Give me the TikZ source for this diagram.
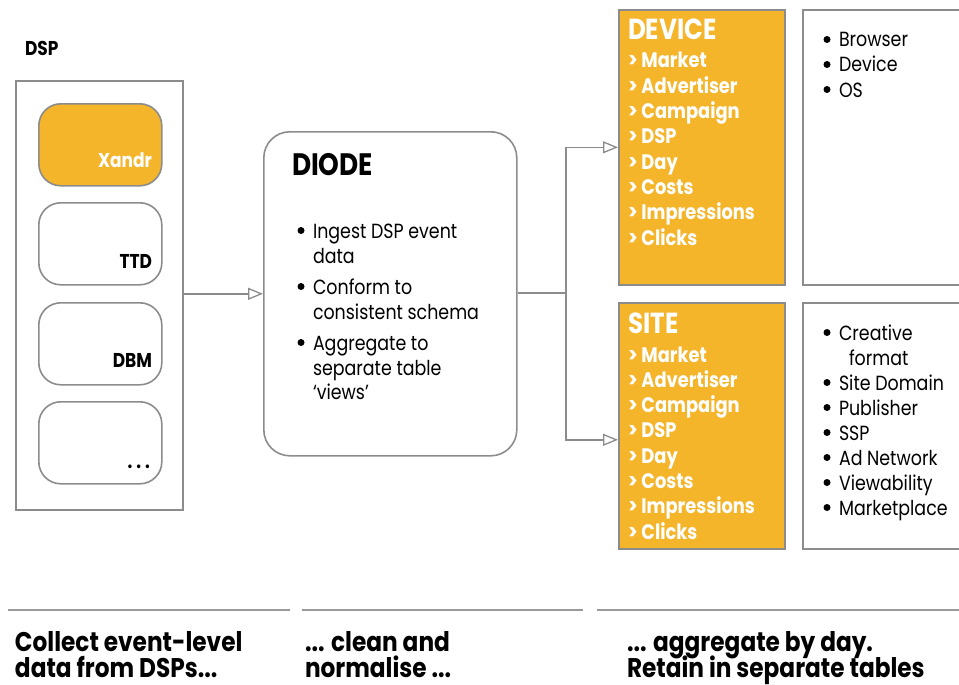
\documentclass[tikz,border=0pt]{standalone}
\usepackage{fontspec}
\setmainfont{Poppins}[FakeStretch=0.85]
\newfontfamily\botfont{Poppins}[FakeStretch=0.86]
\usetikzlibrary{arrows.meta}
\definecolor{orng}{HTML}{F5B52B}
\definecolor{edgegray}{HTML}{8C8C8C}
\definecolor{sepgray}{HTML}{9A9A9A}
\tikzset{
  frame/.style={draw=edgegray, line width=1.6pt, inner sep=0pt, anchor=north west},
  dspitem/.style={frame, rounded corners=22pt, minimum width=123pt, minimum height=82pt},
  conn/.style={draw=edgegray, line width=1.5pt, -{Triangle[length=15pt,width=12pt,fill=white,line width=1.3pt]}},
  txt/.style={anchor=base west, inner sep=0pt, outer sep=0pt},
  rtxt/.style={anchor=base east, inner sep=0pt, outer sep=0pt},
  dot/.style={circle, fill=black, inner sep=0pt, minimum size=7pt},
  labfont/.style={font=\bfseries\fontsize{20}{24}\selectfont},
  listfont/.style={font=\fontsize{20.5}{25}\selectfont},
  itemfont/.style={font=\bfseries\fontsize{21}{25}\selectfont, text=white},
  headfont/.style={font=\bfseries\fontsize{29}{34}\selectfont, text=white},
  captxt/.style={txt, text height=18pt, text depth=6pt, font=\botfont\bfseries\fontsize{27}{30}\selectfont},
  sepline/.style={draw=sepgray, line width=2pt}
}
\begin{document}
\begin{tikzpicture}[x=1pt,y=-1pt]
\useasboundingbox (0,0) rectangle (959,685);

% ---------- DSP column ----------
\node[txt, labfont] (dsplabel) at (25,56) {DSP};
\node[frame, minimum width=167pt, minimum height=429pt] (dsp) at (15,80) {};
\node[dspitem, fill=orng] (xandr) at (38,103) {};
\node[dspitem] (ttd) at (38,202) {};
\node[dspitem] (dbm) at (38,302) {};
\node[dspitem] (more) at (38,401) {};
\node[rtxt, labfont, text=white] (xandrlab) at (152,167) {Xandr};
\node[rtxt, labfont] (ttdlab) at (152,268) {TTD};
\node[rtxt, labfont] (dbmlab) at (152,367) {DBM};
\node[rtxt, labfont] (morelab) at (150,468) {.\hspace{4pt}.\hspace{4pt}.};

% ---------- DIODE ----------
\node[frame, rounded corners=26pt, minimum width=253pt, minimum height=324pt] (diode) at (263,131) {};
\node[txt, font=\bfseries\fontsize{31}{36}\selectfont] (diodelab) at (292,175) {DIODE};
\node[dot] (db1) at (301,230.5) {};
\node[txt, listfont] (dl1) at (313,238) {Ingest DSP event};
\node[txt, listfont] (dl2) at (313,263) {data};
\node[dot] (db2) at (301,286.5) {};
\node[txt, listfont] (dl3) at (313,294) {Conform to};
\node[txt, listfont] (dl4) at (313,319) {consistent schema};
\node[dot] (db3) at (301,342.5) {};
\node[txt, listfont] (dl5) at (313,350) {Aggregate to};
\node[txt, listfont] (dl6) at (313,375) {separate table};
\node[txt, listfont] (dl7) at (313,399) {‘views’};

% ---------- DEVICE ----------
\node[frame, fill=orng, minimum width=166pt, minimum height=275pt] (device) at (618,9) {};
\node[frame, minimum width=160pt, minimum height=275pt] (devattr) at (802,9) {};
\node[txt, headfont] (devhead) at (628,40) {DEVICE};
\foreach \t [count=\i from 0] in {Market,Advertiser,Campaign,DSP,Day,Costs,Impressions,Clicks}
  \node[txt, itemfont] (dev\i) at (628,{68+25.3*\i}) {> \t};
\foreach \t [count=\i from 0] in {Browser,Device,OS}{
  \node[dot] (devb\i) at (827,{39.5+25*\i}) {};
  \node[txt, listfont] (devt\i) at (839,{47+25*\i}) {\t};
}

% ---------- SITE ----------
\node[frame, fill=orng, minimum width=166pt, minimum height=246pt] (site) at (618,302) {};
\node[frame, minimum width=160pt, minimum height=246pt] (siteattr) at (802,302) {};
\node[txt, headfont] (sitehead) at (628,333) {SITE};
\foreach \t [count=\i from 0] in {Market,Advertiser,Campaign,DSP,Day,Costs,Impressions,Clicks}
  \node[txt, itemfont] (site\i) at (628,{362+25.3*\i}) {> \t};
\node[dot] (sb0) at (827,332.5) {};
\node[txt, listfont] (st0) at (839,340) {Creative};
\node[txt, listfont] (st0b) at (849,365) {format};
\foreach \t [count=\i from 1] in {Site Domain,Publisher,SSP,Ad Network,Viewability,Marketplace}{
  \node[dot] (sb\i) at (827,{357.5+25*\i}) {};
  \node[txt, listfont] (st\i) at (839,{365+25*\i}) {\t};
}

% ---------- connectors ----------
\draw[conn] (diode.west -| dsp.east) -- (diode.west);
\coordinate (split) at (566,293);
\draw[conn] (diode.east |- split) -- (split) |- (device.west);
\draw[conn] (split) |- ([yshift=-14pt]site.west);

% ---------- bottom captions ----------
\draw[sepline] (8,610) -- (290,610);
\draw[sepline] (302,610) -- (583,610);
\draw[sepline] (597,610) -- (959,610);
\node[captxt] (c1a) at (15,651) {Collect event-level};
\node[captxt] (c1b) at (15,677) {data from DSPs...};
\node[captxt] (c2a) at (305,651) {... clean and};
\node[captxt] (c2b) at (305,677) {normalise ...};
\node[captxt] (c3a) at (627,651) {... aggregate by day.};
\node[captxt] (c3b) at (627,677) {Retain in separate tables};
\end{tikzpicture}
\end{document}
